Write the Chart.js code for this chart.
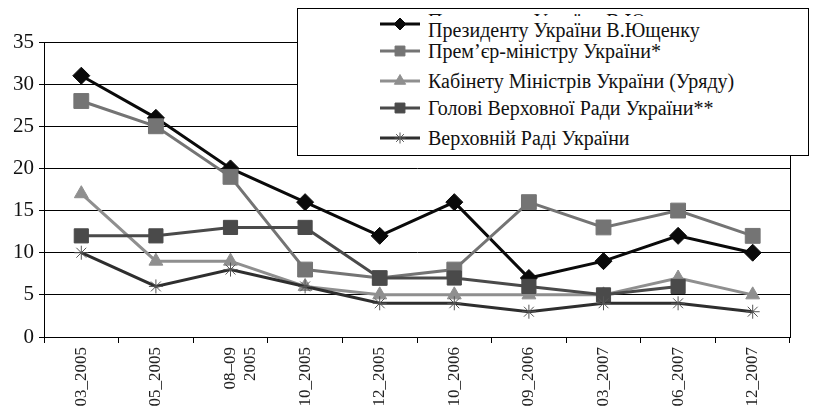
<!DOCTYPE html>
<html lang="uk">
<head>
<meta charset="UTF-8">
<title>Довіра до органів влади</title>
<script src="https://cdn.jsdelivr.net/npm/chart.js"></script>
<style>
  body { margin: 0; background: #fff; font-family: "Liberation Serif", "Times New Roman", serif; }
  #wrap { position: relative; width: 814px; height: 407px; overflow: hidden; }
  #legend {
    position: absolute; left: 297px; top: 8px; width: 510px; height: 146px;
    border: 1px solid #000; background: #fff;
  }
  .item {
    position: absolute; left: 82px; height: 24px;
    display: flex; align-items: center;
    font-size: 20px; color: #111; white-space: nowrap;
  }
  .item canvas { margin-right: 8px; position: relative; }
  .ghost { position: absolute; left: 130px; top: 5px; height: 2px; overflow: hidden;
    font-size: 20px; line-height: 20px; color: #111; white-space: nowrap; }
  .ghost span { position: relative; top: -3px; }
</style>
</head>
<body>
<div id="wrap">
  <canvas id="chart" width="814" height="407"></canvas>
  <div id="legend"></div>
</div>

<script>
// дані
const labels = ['03_2005', '05_2005', ['08\u201309', '2005'], '10_2005', '12_2005',
                '10_2006', '09_2006', '03_2007', '06_2007', '12_2007'];
const seriesNames = [
  'Президенту України В.Ющенку',
  'Прем\u2019єр-міністру України*',
  'Кабінету Міністрів України (Уряду)',
  'Голові Верховної Ради України**',
  'Верховній Раді України'
];
const president = [31, 26, 20, 16, 12, 16, 7, 9, 12, 10];
const premier   = [28, 25, 19, 8, 7, 8, 16, 13, 15, 12];
const cabinet   = [17, 9, 9, 6, 5, 5, 5, 5, 7, 5];
const speaker   = [12, 12, 13, 13, 7, 7, 6, 5, 6, null];
const rada      = [10, 6, 8, 6, 4, 4, 3, 4, 4, 3];
const yTicks    = [0, 5, 10, 15, 20, 25, 30, 35];

const serif = "'Liberation Serif', 'Times New Roman', serif";

const styles = [
  { color: '#0a0a0a', point: 'rectRot',  r: 8.5, lr: 6 },
  { color: '#747474', point: 'rect',     r: 10.5, lr: 7 },
  { color: '#8f8f8f', point: 'triangle', r: 8,  lr: 6.5 },
  { color: '#4a4a4a', point: 'rect',     r: 10, lr: 7 },
  { color: '#2e2e2e', point: 'star',     r: 7,  lr: 5.5, pointColor: '#555' }
];
const values = [president, premier, cabinet, speaker, rada];

const datasets = values.map((d, i) => ({
  label: seriesNames[i],
  data: d,
  borderColor: styles[i].color,
  backgroundColor: styles[i].color,
  pointBackgroundColor: styles[i].pointColor || styles[i].color,
  pointBorderColor: styles[i].pointColor || styles[i].color,
  borderWidth: 3,
  pointStyle: styles[i].point,
  pointRadius: styles[i].r,
  pointBorderWidth: 1,
  tension: 0,
  fill: false,
  spanGaps: false,
  order: 5 - i
}));

// рамка справа від області графіка
const rightBorder = {
  id: 'rightBorder',
  afterDraw(chart) {
    const a = chart.chartArea, ctx = chart.ctx;
    ctx.save();
    ctx.strokeStyle = '#000';
    ctx.lineWidth = 1;
    ctx.beginPath();
    ctx.moveTo(Math.round(a.right) + 0.5, a.top);
    ctx.lineTo(Math.round(a.right) + 0.5, a.bottom);
    ctx.stroke();
    ctx.restore();
  }
};

const chart = new Chart(document.getElementById('chart'), {
  type: 'line',
  data: { labels: labels, datasets: datasets },
  options: {
    responsive: false,
    animation: false,
    devicePixelRatio: 1,
    layout: { padding: { top: 42, right: 24, left: 0, bottom: 0 } },
    plugins: { legend: { display: false }, tooltip: { enabled: false } },
    scales: {
      x: {
        offset: true,
        grid: { offset: true, drawOnChartArea: false, color: '#000', tickLength: 6 },
        border: { color: '#000' },
        ticks: {
          minRotation: 90, maxRotation: 90, autoSkip: false, padding: 4,
          color: '#222', font: { family: serif, size: 17 }
        },
        afterFit(scale) { scale.height = 70; }
      },
      y: {
        min: 0, max: 35,
        afterBuildTicks(scale) { scale.ticks = yTicks.map(v => ({ value: v })); },
        grid: { color: '#000', lineWidth: 1, tickLength: 5 },
        border: { color: '#000' },
        ticks: { padding: 5, color: '#111', font: { family: serif, size: 21 } },
        afterFit(scale) { scale.width = 44; }
      }
    }
  },
  plugins: [rightBorder]
});

// легенда
const legend = document.getElementById('legend');
const ghost = document.createElement('div');
ghost.className = 'ghost';
ghost.innerHTML = '<span>' + seriesNames[0] + '</span>';
legend.appendChild(ghost);

const rowCenters = [21, 42, 72, 99, 129];
const sampleShift = [-6, 0, 0, 0, 0];
datasets.forEach((ds, i) => {
  const row = document.createElement('div');
  row.className = 'item';
  row.style.top = (rowCenters[i] - 12) + 'px';
  const c = document.createElement('canvas');
  c.width = 40; c.height = 24;
  c.style.top = sampleShift[i] + 'px';
  const ctx = c.getContext('2d');
  ctx.strokeStyle = ds.borderColor;
  ctx.lineWidth = 3;
  ctx.beginPath(); ctx.moveTo(0, 12); ctx.lineTo(40, 12); ctx.stroke();
  ctx.fillStyle = ds.pointBackgroundColor;
  ctx.strokeStyle = ds.pointBorderColor;
  ctx.lineWidth = 1;
  if (Chart.helpers && Chart.helpers.drawPoint) {
    Chart.helpers.drawPoint(ctx, { pointStyle: ds.pointStyle, radius: styles[i].lr, rotation: 0, borderWidth: 1 }, 20, 12);
  }
  row.appendChild(c);
  const t = document.createElement('span');
  t.textContent = ds.label;
  row.appendChild(t);
  legend.appendChild(row);
});
</script>
</body>
</html>
